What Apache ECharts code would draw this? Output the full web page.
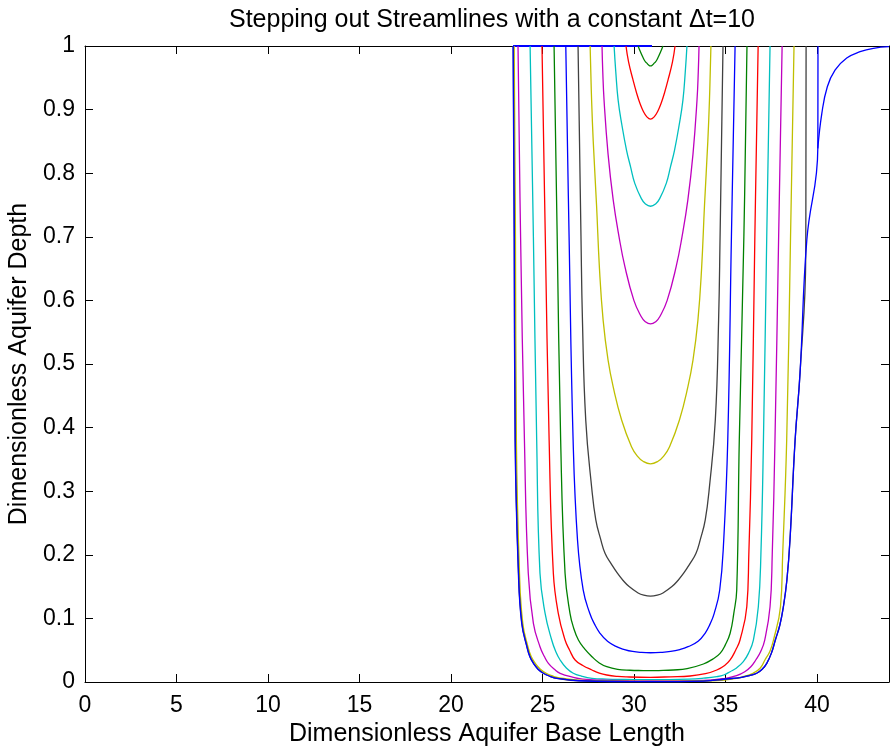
<!DOCTYPE html>
<html>
<head>
<meta charset="utf-8">
<script src="https://cdn.jsdelivr.net/npm/echarts@6/dist/echarts.min.js"></script>
<style>
html,body{margin:0;padding:0;background:#fff;}
#chart{width:893px;height:751px;}
</style>
</head>
<body>
<div id="chart"></div>
<script>
// ---- data (x = base length, y = depth) ----
const titleText = 'Stepping out Streamlines with a constant \u0394t=10';
const xName = 'Dimensionless Aquifer Base Length';
const yName = 'Dimensionless Aquifer Depth';
const xTicks = [0, 5, 10, 15, 20, 25, 30, 35, 40];
const yTicks = [0, 0.1, 0.2, 0.3, 0.4, 0.5, 0.6, 0.7, 0.8, 0.9, 1];

const b0 = [[23.39,1],[30.98,1]];
const g1 = [[30.22,1],[30.33,.992],[30.47,.983],[30.60,.976],[30.70,.973],[30.78,.9705],[30.90,.9686],[31.02,.9705],[31.10,.973],[31.20,.976],[31.33,.983],[31.47,.992],[31.58,1]];
const r2 = [[29.56,1],[29.70,.975],[29.94,.947],[30.15,.925],[30.32,.91],[30.51,.897],[30.69,.889],[30.9,.885],[31.11,.889],[31.29,.897],[31.48,.91],[31.65,.925],[31.86,.947],[32.10,.975],[32.24,1]];
const c3 = [[28.91,1],[29.00,.96],[29.13,.915],[29.34,.875],[29.59,.836],[29.81,.81],[30.04,.784],[30.40,.76],[30.61,.752],[30.9,.748],[31.19,.752],[31.40,.76],[31.76,.784],[31.99,.81],[32.21,.836],[32.46,.875],[32.67,.915],[32.80,.96],[32.89,1]];
const m4 = [[28.25,1],[28.29,.96],[28.36,.915],[28.58,.83],[28.86,.758],[29.18,.70],[29.50,.653],[29.99,.60],[30.38,.575],[30.60,.567],[30.9,.563],[31.20,.567],[31.42,.575],[31.81,.60],[32.30,.653],[32.62,.70],[32.94,.758],[33.22,.83],[33.44,.915],[33.51,.96],[33.55,1]];
const y5 = [[27.60,1],[27.68,.915],[27.77,.85],[27.95,.75],[28.11,.65],[28.31,.569],[28.58,.506],[28.86,.464],[29.32,.412],[29.86,.37],[30.18,.355],[30.49,.347],[30.9,.343],[31.31,.347],[31.62,.355],[31.94,.37],[32.48,.412],[32.94,.464],[33.22,.506],[33.49,.569],[33.69,.65],[33.85,.75],[34.03,.85],[34.12,.915],[34.20,1]];
const k6 = [[26.94,1],[27.02,.85],[27.10,.7],[27.18,.569],[27.36,.412],[27.68,.307],[27.91,.255],[28.17,.225],[28.42,.202],[28.77,.185],[29.09,.171],[29.39,.16],[29.73,.15],[30.22,.14],[30.53,.1365],[30.9,.135],[31.27,.1365],[31.58,.14],[32.07,.15],[32.41,.16],[32.71,.171],[33.03,.185],[33.38,.202],[33.63,.225],[33.89,.255],[34.12,.307],[34.44,.412],[34.62,.569],[34.70,.7],[34.78,.85],[34.86,1]];
const b7 = [[26.27,1],[26.45,.7],[26.67,.3805],[26.91,.2233],[27.22,.1447],[27.58,.108],[27.84,.091],[28.14,.0766],[28.55,.064],[29.04,.0555],[29.48,.051],[29.92,.048],[30.41,.0465],[30.9,.046],[31.45,.0465],[32.0,.048],[32.5,.051],[32.95,.0555],[33.5,.064],[33.88,.0766],[34.15,.091],[34.38,.108],[34.68,.1447],[34.9,.2233],[35.12,.3805],[35.32,.7],[35.52,1]];
const g8 = [[25.63,1],[25.8,.7],[25.99,.3805],[26.23,.1709],[26.50,.108],[26.7,.085],[26.96,.066],[27.3,.052],[27.70,.0398],[28.1,.030],[28.51,.0241],[29.1,.020],[29.78,.0185],[30.5,.018],[30.9,.0178],[31.35,.018],[32.15,.0189],[32.9,.021],[33.79,.0283],[34.3,.036],[34.7,.0451],[34.98,.058],[35.25,.0766],[35.45,.108],[35.61,.1447],[35.75,.3805],[36.0,.7],[36.17,1]];
const r9 = [[24.97,1],[25.15,.7],[25.36,.3805],[25.59,.1709],[25.86,.108],[26.23,.066],[26.48,.050],[26.78,.0346],[27.2,.026],[27.70,.0189],[28.1,.014],[28.51,.011],[29.1,.0088],[29.6,.008],[30.9,.0074],[32.0,.0082],[33.06,.0094],[33.9,.013],[34.52,.0189],[34.95,.026],[35.25,.0346],[35.55,.050],[35.79,.066],[36.16,.1184],[36.27,.2],[36.43,.3805],[36.6,.7],[36.78,1]];
const c10 = [[24.32,1],[24.5,.7],[24.68,.3805],[24.86,.1709],[25.14,.108],[25.50,.066],[25.72,.048],[25.96,.0346],[26.3,.022],[26.68,.0137],[27.15,.009],[27.70,.0058],[28.5,.0045],[29.5,.004],[30.9,.0035],[33.0,.0045],[33.8,.006],[34.52,.0084],[34.9,.011],[35.25,.0162],[35.6,.022],[35.97,.032],[36.25,.045],[36.52,.066],[36.79,.1184],[36.93,.2],[37.07,.3805],[37.25,.7],[37.43,1]];
const m11 = [[23.66,1],[23.8,.7],[24.01,.3805],[24.22,.1709],[24.50,.0923],[24.86,.0555],[25.1,.04],[25.32,.0294],[25.65,.02],[25.96,.0137],[26.68,.0074],[27.2,.0045],[28.0,.003],[30.9,.0018],[33.8,.0025],[35.0,.0058],[35.6,.01],[36.05,.0162],[36.38,.024],[36.65,.0346],[36.92,.048],[37.14,.066],[37.43,.1184],[37.55,.2],[37.70,.3805],[37.9,.7],[38.09,1]];
const y12 = [[23.45,1],[23.52,.7],[23.57,.3805],[23.74,.1709],[23.92,.0923],[24.2,.0555],[24.38,.04],[24.6,.0294],[24.88,.02],[25.2,.0137],[25.6,.009],[26.0,.006],[27.5,.002],[30.9,.001],[34.3,.002],[35.6,.0058],[36.1,.0095],[36.5,.0137],[36.9,.022],[37.15,.0346],[37.42,.048],[37.62,.066],[38.0,.1184],[38.12,.2],[38.34,.3805],[38.55,.7],[38.74,1]];
const k13 = [[23.40,1],[23.46,.7],[23.51,.3805],[23.69,.1709],[23.87,.0923],[24.15,.0555],[24.31,.04],[24.51,.0294],[24.76,.02],[25.05,.0137],[25.41,.009],[25.79,.0058],[27.0,.002],[30.9,.0005],[33.8,.0015],[35.0,.0047],[35.88,.0074],[36.35,.0105],[36.70,.0137],[37.0,.02],[37.25,.0294],[37.5,.045],[37.72,.066],[37.97,.09],[38.16,.1184],[38.35,.16],[38.52,.2233],[38.80,.3805],[39.07,.486],[39.38,.67],[39.40,1]];
const b14 = [[23.39,1],[23.45,.7],[23.50,.3805],[23.68,.1709],[23.86,.0923],[24.14,.0555],[24.30,.04],[24.50,.0294],[24.75,.02],[25.04,.0137],[25.40,.009],[25.78,.0058],[27.0,.002],[30.9,.0005],[33.8,.0015],[35.0,.0047],[35.88,.0074],[36.35,.0105],[36.70,.0137],[37.0,.02],[37.25,.0294],[37.5,.045],[37.72,.066],[37.97,.09],[38.16,.1184],[38.35,.16],[38.52,.2233],[38.80,.3805],[39.07,.486],[39.44,.695],[40.04,.839],[40.05,1]];
const tail = [[40.04,.839],[40.26,.894],[40.56,.936],[40.98,.962],[41.62,.981],[42.35,.991],[43.08,.9964],[43.93,.9989]];

const curves = [b0, g1, r2, c3, m4, y5, k6, b7, g8, r9, c10, m11, y12, k13, b14, tail];
const colors = ['#0000ff','#008000','#ff0000','#00bfbf','#bf00bf','#bfbf00','#404040',
                '#0000ff','#008000','#ff0000','#00bfbf','#bf00bf','#bfbf00','#404040','#0000ff','#0000ff'];

const X_MIN = 0, X_MAX = 43.93, Y_MIN = 0, Y_MAX = 1;

const FONT = 'Liberation Sans';
const chart = echarts.init(document.getElementById('chart'), null, {renderer: 'canvas'});

const tickStyle = {show: true, inside: true, length: 8, lineStyle: {color: '#000', width: 1}};
const lineStyleAxis = {show: true, onZero: false, lineStyle: {color: '#000', width: 1}};

const option = {
  animation: false,
  backgroundColor: '#fff',
  title: {
    text: titleText,
    left: 487, top: 3, textAlign: 'center',
    textStyle: {fontFamily: FONT, fontSize: 25, fontWeight: 'normal', color: '#000'}
  },
  grid: {left: 85, right: 4, top: 46, bottom: 69, containLabel: false, outerBoundsMode: 'none'},
  xAxis: [{
    type: 'value', min: X_MIN, max: X_MAX, interval: xTicks[1] - xTicks[0],
    name: xName, nameLocation: 'middle', nameGap: 40,
    nameTextStyle: {fontFamily: FONT, fontSize: 25, color: '#000'},
    axisLine: lineStyleAxis, axisTick: tickStyle, splitLine: {show: false},
    axisLabel: {fontFamily: FONT, fontSize: 23, color: '#000', margin: 12, showMaxLabel: false,
      formatter: v => xTicks.indexOf(v) >= 0 ? String(v) : ''}
  }, {
    type: 'value', position: 'top', min: X_MIN, max: X_MAX, interval: xTicks[1] - xTicks[0],
    axisLine: lineStyleAxis, axisTick: tickStyle, splitLine: {show: false}, axisLabel: {show: false}
  }],
  yAxis: [{
    type: 'value', min: Y_MIN, max: Y_MAX, interval: 0.1,
    name: yName, nameLocation: 'middle', nameGap: 53,
    nameTextStyle: {fontFamily: FONT, fontSize: 25, color: '#000'},
    axisLine: lineStyleAxis, axisTick: tickStyle, splitLine: {show: false},
    axisLabel: {fontFamily: FONT, fontSize: 23, color: '#000', margin: 10,
      formatter: v => { const t = yTicks.find(a => Math.abs(a - v) < 1e-6); return t === undefined ? '' : String(t); }}
  }, {
    type: 'value', position: 'right', min: Y_MIN, max: Y_MAX, interval: 0.1,
    axisLine: lineStyleAxis, axisTick: tickStyle, splitLine: {show: false}, axisLabel: {show: false}
  }],
  series: curves.map((d, i) => ({
    type: 'line', data: d, xAxisIndex: 0, yAxisIndex: 0, z: 5,
    showSymbol: false, symbol: 'none', smooth: 0.45, clip: false,
    lineStyle: {color: colors[i], width: i === 0 ? 2 : 1.3},
    emphasis: {disabled: true}, silent: true
  }))
};
chart.setOption(option);
</script>
</body>
</html>
